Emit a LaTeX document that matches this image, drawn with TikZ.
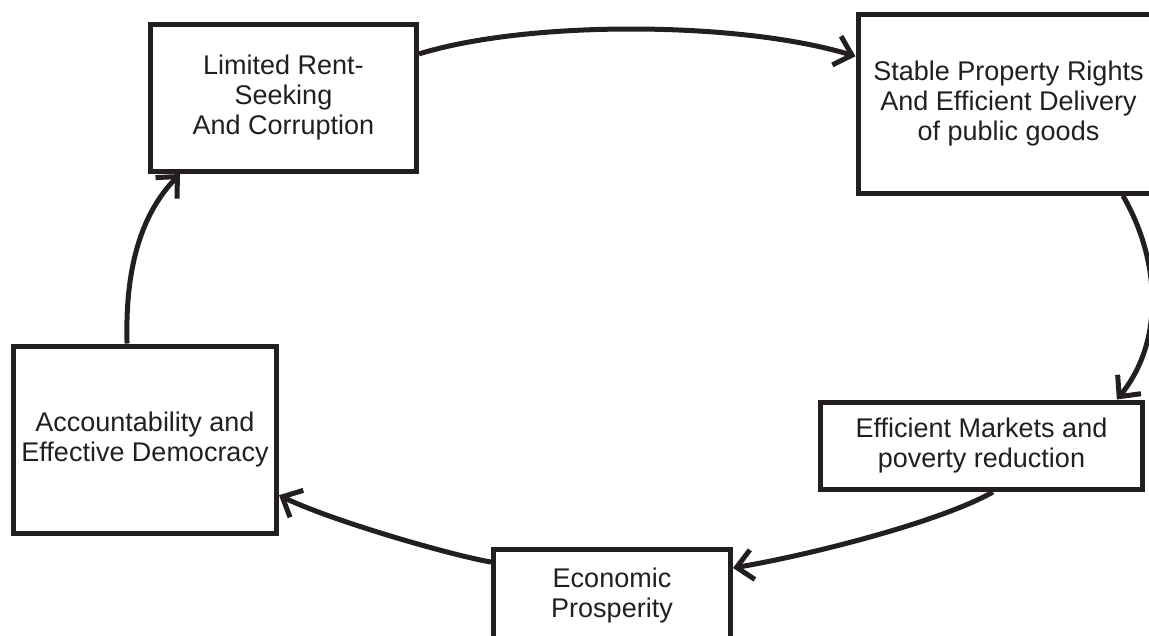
\documentclass[tikz,border=0pt]{standalone}
\usepackage{fontspec}
\setmainfont{Liberation Sans}
\usetikzlibrary{arrows.meta,calc}
\definecolor{ink}{HTML}{231F20}
\begin{document}
\begin{tikzpicture}[x=1pt,y=-1pt,
  box/.style={draw=ink, line width=5pt, rectangle, inner sep=0pt, align=center,
     text=ink, font=\fontsize{27}{30}\selectfont},
  link/.style={draw=ink, line width=5pt, -{Straight Barb[length=16pt,width=30pt]}}]
\useasboundingbox (0,0) rectangle (1149,635);
\clip (0,0) rectangle (1149,635);
\fill[white] (0,0) rectangle (1149,635);
\node[box, minimum width=266pt, minimum height=147pt] (n1) at (283.5,98) {Limited Rent-\\Seeking\\And Corruption};
\node[box, minimum width=301pt, minimum height=178.5pt] (n2) at (1008.5,104) {Stable Property Rights\\And Efficient Delivery\\of public goods};
\node[box, minimum width=322pt, minimum height=87.5pt] (n4) at (981.5,445.75) {Efficient Markets and\\poverty reduction};
\node[box, minimum width=237pt, minimum height=92pt] (n5) at (612,595.5) {Economic\\Prosperity};
\node[box, minimum width=263pt, minimum height=187pt] (n3) at (145,439.5) {Accountability and\\Effective Democracy};
\draw[link] ($(n1.north east)!0.21!(n1.south east)$) .. controls +(110,-34) and +(-115,-35) .. ($(n2.north west)!0.24!(n2.south west)$);
\draw[link] ($(n2.south west)!0.874!(n2.south east)$) .. controls +(37,64) and +(48,-59) .. ($(n4.north west)!0.914!(n4.north east)$);
\draw[link] ($(n4.south west)!0.535!(n4.south east)$) .. controls +(-53,30) and +(77,-13) .. ($(n5.north east)!0.216!(n5.south east)$);
\draw[link] ($(n5.north west)!0.155!(n5.south west)$) .. controls +(-41,-7) and +(51,25) .. ($(n3.north east)!0.79!(n3.south east)$);
\draw[link] ($(n3.north west)!0.433!(n3.north east)$) .. controls +(-2,-73) and +(-40,41) .. ($(n1.south west)!0.118!(n1.south east)$);
\end{tikzpicture}
\end{document}
